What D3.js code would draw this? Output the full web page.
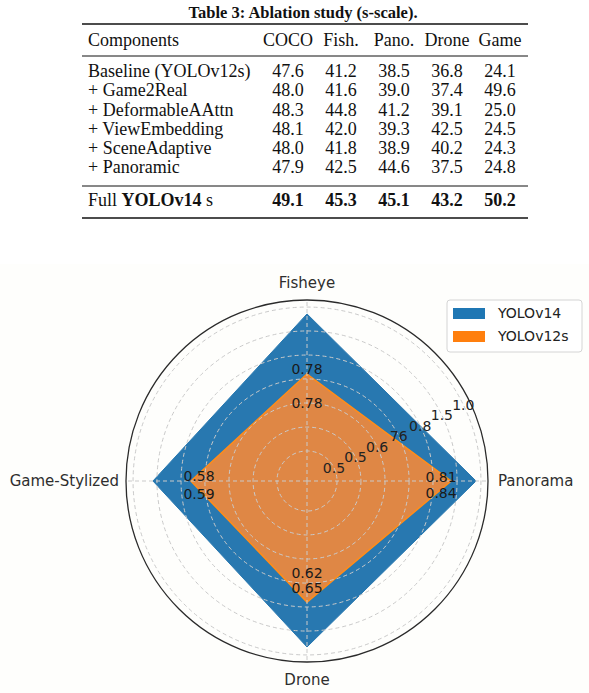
<!DOCTYPE html>
<html>
<head>
<meta charset="utf-8">
<script src="https://cdn.jsdelivr.net/npm/d3@7"></script>
<style>
  html, body { margin: 0; padding: 0; background: #ffffff; }
  svg { display: block; }
</style>
</head>
<body>
<svg id="chart" width="589" height="693"></svg>
<script>
// ---------- Table data ----------
const tableTitle = "Table 3: Ablation study (s-scale).";
const tableColumns = ["COCO", "Fish.", "Pano.", "Drone", "Game"];
const tableRowNames = ["Baseline (YOLOv12s)", "+ Game2Real", "+ DeformableAAttn", "+ ViewEmbedding", "+ SceneAdaptive", "+ Panoramic"];
const tableRowValues = [
  ["47.6", "41.2", "38.5", "36.8", "24.1"],
  ["48.0", "41.6", "39.0", "37.4", "49.6"],
  ["48.3", "44.8", "41.2", "39.1", "25.0"],
  ["48.1", "42.0", "39.3", "42.5", "24.5"],
  ["48.0", "41.8", "38.9", "40.2", "24.3"],
  ["47.9", "42.5", "44.6", "37.5", "24.8"]
];
const fullRowValues = ["49.1", "45.3", "45.1", "43.2", "50.2"];

// ---------- Radar data ----------
const categories = ["Fisheye", "Panorama", "Drone", "Game-Stylized"];
const seriesNames = ["YOLOv14", "YOLOv12s"];
const yolov14 = [0.923, 0.934, 0.917, 0.851];
const yolov12s = [0.591, 0.796, 0.669, 0.641];
const yolov14Labels = ["0.78", "0.84", "0.65", "0.59"];
const yolov12sLabels = ["0.78", "0.81", "0.62", "0.58"];
const rTickValues = [0.166, 0.298, 0.431, 0.564, 0.696, 0.829, 0.961];
const rTickLabels = ["0.5", "0.5", "0.6", "76", "0.8", "1.5", "1.0"];

const svg = d3.select("#chart");

// ---------- Table ----------
const serif = "'Liberation Serif', 'Times New Roman', serif";
const T = svg.append("g").attr("font-family", serif).attr("fill", "#111");
T.append("text").attr("x", 303).attr("y", 18).attr("text-anchor", "middle")
  .attr("font-size", 16.5).attr("font-weight", "bold").text(tableTitle);

const colX = d3.scalePoint().domain(tableColumns).range([288, 500]);
const rowY = d3.scaleLinear().domain([0, 5]).range([77, 173.3]);

const rules = [
  {y: 24, w: 1.6}, {y: 56, w: 1}, {y: 186, w: 1}, {y: 218, w: 1.6}
];
T.selectAll("line.rule").data(rules).join("line").attr("class", "rule")
  .attr("x1", 82).attr("x2", 528).attr("y1", d => d.y).attr("y2", d => d.y)
  .attr("stroke", "#111").attr("stroke-width", d => d.w);

T.append("text").attr("x", 88).attr("y", 46).attr("font-size", 18).text("Components");
T.selectAll("text.colh").data(tableColumns).join("text").attr("class", "colh")
  .attr("x", d => colX(d)).attr("y", 46).attr("text-anchor", "middle")
  .attr("font-size", 18).text(d => d);

tableRowNames.forEach((name, i) => {
  T.append("text").attr("x", 88).attr("y", rowY(i)).attr("font-size", 18).text(name);
  T.selectAll(null).data(tableRowValues[i]).join("text")
    .attr("x", (d, j) => colX(tableColumns[j])).attr("y", rowY(i))
    .attr("text-anchor", "middle").attr("font-size", 18).text(d => d);
});
const fullText = T.append("text").attr("x", 88).attr("y", 206).attr("font-size", 18);
fullText.append("tspan").text("Full ");
fullText.append("tspan").attr("font-weight", "bold").text("YOLOv14");
fullText.append("tspan").text(" s");
T.selectAll(null).data(fullRowValues).join("text")
  .attr("x", (d, j) => colX(tableColumns[j])).attr("y", 206)
  .attr("text-anchor", "middle").attr("font-size", 18).attr("font-weight", "bold").text(d => d);

// ---------- Radar chart ----------
svg.append("rect").attr("x", 0).attr("y", 264).attr("width", 589).attr("height", 429).attr("fill", "#fefefc");

const cx = 307, cy = 481, R = 181;
const sans = "'DejaVu Sans', sans-serif";
const G = svg.append("g").attr("transform", `translate(${cx},${cy})`).attr("font-family", sans);

const rScale = d3.scaleLinear().domain([0, 1]).range([0, R]);
const aScale = d3.scaleLinear().domain([0, categories.length]).range([0, 2 * Math.PI]);
const pt = (i, v) => {
  const a = aScale(i), r = rScale(v);
  return [r * Math.sin(a), -r * Math.cos(a)];
};

const radial = d3.lineRadial()
  .angle((d, i) => aScale(i))
  .radius(d => rScale(d))
  .curve(d3.curveLinearClosed);

G.append("path").attr("d", radial(yolov14))
  .attr("fill", "#2878b0").attr("stroke", "#2878b0").attr("stroke-width", 1);
G.append("path").attr("d", radial(yolov12s))
  .attr("fill", "#df8745").attr("stroke", "#ff8c1a").attr("stroke-width", 1.6);

// grid circles
G.selectAll("circle.grid").data(rTickValues).join("circle").attr("class", "grid")
  .attr("r", d => rScale(d)).attr("fill", "none")
  .attr("stroke", "#cacaca").attr("stroke-width", 1).attr("stroke-dasharray", "4,3");
// spokes
G.selectAll("line.spoke").data(categories).join("line").attr("class", "spoke")
  .attr("x1", 0).attr("y1", 0)
  .attr("x2", (d, i) => pt(i, 1)[0]).attr("y2", (d, i) => pt(i, 1)[1])
  .attr("stroke", "#cacaca").attr("stroke-width", 1).attr("stroke-dasharray", "4,3");
// outer frame
G.append("circle").attr("r", rScale(1)).attr("fill", "none").attr("stroke", "#2a2a2a").attr("stroke-width", 1.3);

// radial tick labels
const tickAngle = 64 * Math.PI / 180;
G.selectAll("text.rtick").data(rTickValues).join("text").attr("class", "rtick")
  .attr("x", d => rScale(d) * Math.sin(tickAngle))
  .attr("y", d => -rScale(d) * Math.cos(tickAngle))
  .attr("dy", "0.35em").attr("text-anchor", "middle")
  .attr("font-size", 14).attr("fill", "#222")
  .text((d, i) => rTickLabels[i]);

// value labels (placed near the YOLOv12s vertex of each axis)
const labelLayout = {
  "Fisheye":       {a: [0, 4.5], b: [0, -29]},
  "Panorama":      {a: [-10, -4], b: [-10, 12]},
  "Drone":         {a: [0, -29], b: [0, -14]},
  "Game-Stylized": {a: [8, -5], b: [8, 13]}
};
categories.forEach((c, i) => {
  const L = labelLayout[c];
  const [vx, vy] = pt(i, yolov12s[i]);
  const place = off => {
    if (c === "Fisheye") return [vx, vy - off[1]];
    if (c === "Drone") return [vx, vy + off[1]];
    return [vx + off[0], vy + off[1]];
  };
  const p1 = place(L.a), p2 = place(L.b);
  G.append("text").attr("x", p1[0]).attr("y", p1[1]).attr("dy", "0.35em")
    .attr("text-anchor", "middle").attr("font-size", 14).attr("fill", "#1a1a1a")
    .text(yolov12sLabels[i]);
  G.append("text").attr("x", p2[0]).attr("y", p2[1]).attr("dy", "0.35em")
    .attr("text-anchor", "middle").attr("font-size", 14).attr("fill", "#1a1a1a")
    .text(yolov14Labels[i]);
});

// category labels
const catPos = [
  {dx: 0, dy: -198, anchor: "middle"},
  {dx: 191, dy: 0, anchor: "start"},
  {dx: 0, dy: 199, anchor: "middle"},
  {dx: -188, dy: 0, anchor: "end"}
];
G.selectAll("text.cat").data(categories).join("text").attr("class", "cat")
  .attr("x", (d, i) => catPos[i].dx).attr("y", (d, i) => catPos[i].dy)
  .attr("dy", "0.35em").attr("text-anchor", (d, i) => catPos[i].anchor)
  .attr("font-size", 15).attr("fill", "#2e2e2e").text(d => d);

// legend
const Lg = svg.append("g").attr("font-family", sans);
Lg.append("rect").attr("x", 447).attr("y", 300).attr("width", 135).attr("height", 52)
  .attr("rx", 3).attr("fill", "#ffffff").attr("stroke", "#d4d4d4").attr("stroke-width", 1);
const legendColors = ["#1f77b4", "#ff7f0e"];
seriesNames.forEach((s, i) => {
  Lg.append("rect").attr("x", 453).attr("y", 308 + i * 23).attr("width", 32).attr("height", 11)
    .attr("fill", legendColors[i]);
  Lg.append("text").attr("x", 498).attr("y", 313.5 + i * 23).attr("dy", "0.35em")
    .attr("font-size", 14).attr("fill", "#222").text(s);
});
</script>
</body>
</html>
